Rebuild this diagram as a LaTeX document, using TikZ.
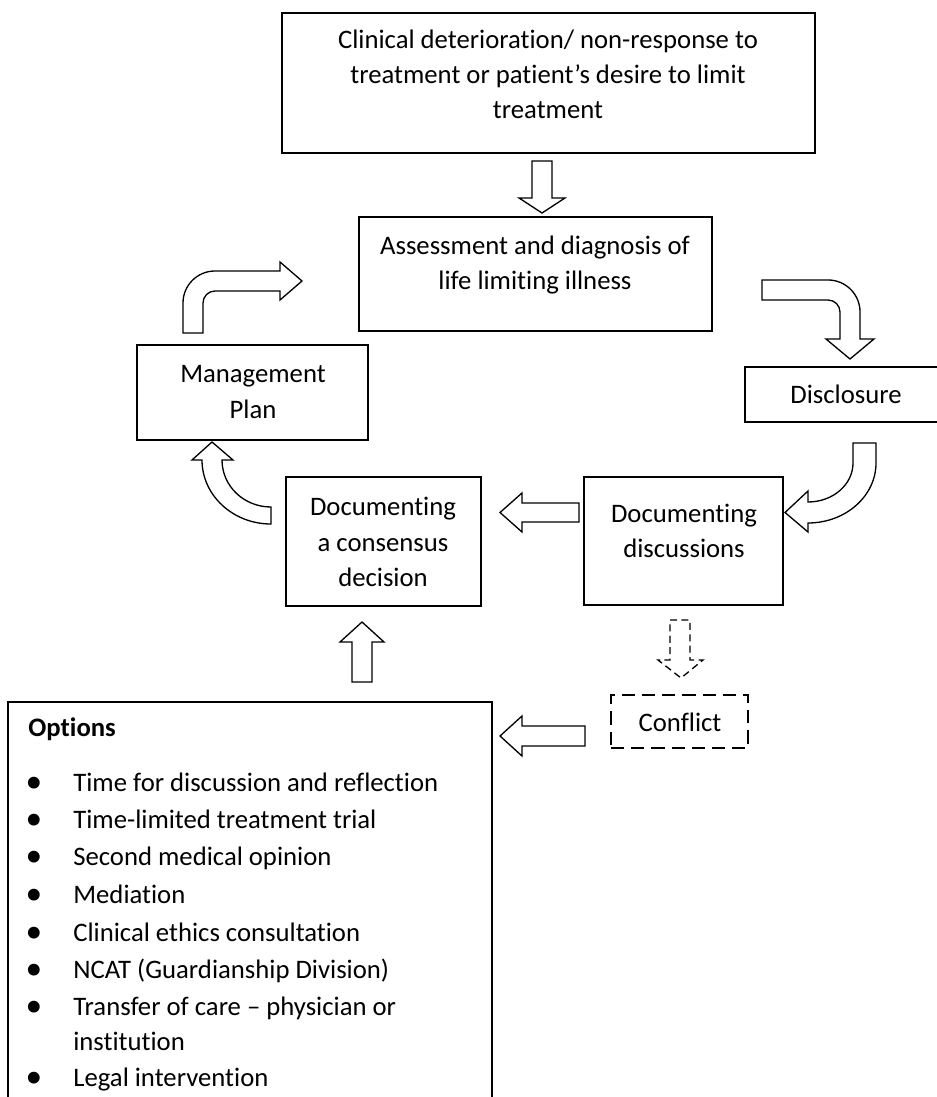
\documentclass[tikz,border=0pt]{standalone}
\usepackage{fontspec}
\setmainfont{Carlito}[Ligatures=NoCommon]
\usetikzlibrary{fit}
\begin{document}
\begin{tikzpicture}[x=0.02cm,y=-0.02cm,
    box/.style={draw,line width=1.3pt,rectangle,inner sep=0pt},
    txt/.style={align=center,inner sep=0pt,font=\fontsize{15.2}{20}\selectfont},
    blockarrow/.style={draw,line width=0.75pt,fill=white,line join=miter}]
\useasboundingbox (0,0) rectangle (936,1097);

% boxes
\node[box,fit={(282,13) (815,153)}] (top) {};
\node[box,fit={(359,217) (712,331)}] (assess) {};
\node[box,fit={(137,345) (368,440)}] (mgmt) {};
\node[box,fit={(745,367) (950,422)}] (discl) {};
\node[box,fit={(584,477) (783,605)}] (docdisc) {};
\node[box,fit={(286,477) (481,606)}] (consensus) {};
\node[box,dash pattern=on 7.5pt off 4pt,fit={(611,695) (748,748)}] (conflict) {};
\node[box,fit={(8,702) (492,1110)}] (options) {};

% texts
\node[txt] (topT) at (548,74) {Clinical deterioration/ non-response to\\treatment or patient’s desire to limit\\treatment};
\node[txt] (assessT) at (535,265) {Assessment and diagnosis of\\life limiting illness};
\node[txt] (mgmtT) at (253,392) {Management\\Plan};
\node[txt] (disclT) at (846,394) {Disclosure};
\node[txt] (docdiscT) at (684,531) {Documenting\\discussions};
\node[txt] (consensusT) at (383,542) {Documenting\\a consensus\\decision};
\node[txt] (conflictT) at (680,722) {Conflict};

\node[txt,anchor=base west,font=\fontsize{15.2}{20}\selectfont\bfseries] (optT) at (28,736) {Options};
\foreach \y/\t [count=\i] in {783/Time for discussion and reflection,820/Time-limited treatment trial,857/Second medical opinion,895/Mediation,933/Clinical ethics consultation,970/NCAT (Guardianship Division),1007/Transfer of care – physician or,1078/Legal intervention}
{
    \node[txt,anchor=base west] (opt\i) at (73,\y+8) {\t};
    \node[txt,anchor=base,font=\fontsize{19}{19}\selectfont] (bul\i) at (34,\y+9.5) {•};
}
\node[txt,anchor=base west] (opt7b) at (73,1050) {institution};

% straight block arrows
\draw[blockarrow] (532,161) -- (552,161) -- (552,198) -- (565,198) -- (542,213) -- (519,198) -- (532,198) -- cycle;
\draw[blockarrow] (579,503) -- (522,503) -- (522,493) -- (500,512.5) -- (522,532) -- (522,522) -- (579,522) -- cycle;
\draw[blockarrow] (352,682) -- (352,642) -- (340,642) -- (362,622) -- (384,642) -- (372,642) -- (372,682) -- cycle;
\draw[blockarrow] (585,726) -- (522,726) -- (522,716) -- (500,736) -- (522,756) -- (522,746) -- (585,746) -- cycle;
\draw[blockarrow,dash pattern=on 4pt off 2.5pt] (670,620) -- (690,620) -- (690,660) -- (703,660) -- (681,678) -- (658,660) -- (670,660) -- cycle;

% bent block arrows
\draw[blockarrow] (183,333) -- (183,303) .. controls (183,285.3) and (197.3,271) .. (215,271) -- (280,271) -- (280,262) -- (302,281) -- (280,300) -- (280,291) -- (215,291) .. controls (208.4,291) and (203,296.4) .. (203,303) -- (203,333) -- cycle;
\draw[blockarrow] (762,280) -- (828,280) .. controls (845.7,280) and (860,294.3) .. (860,312) -- (860,339) -- (874,339) -- (850,359) -- (826,339) -- (840,339) -- (840,312) .. controls (840,305.4) and (834.6,300) .. (828,300) -- (762,300) -- cycle;
\draw[blockarrow] (853,443) -- (876,443) -- (876,463) .. controls (876,496) and (845.6,523) .. (808,523) -- (808,532) -- (785,512.5) -- (808,491) -- (808,502) .. controls (832.9,502) and (853,484.5) .. (853,463) -- cycle;
\draw[blockarrow] (271,507) -- (271,524) .. controls (232.9,524) and (202,495.3) .. (202,460) -- (192,460) -- (212,442) -- (233,460) -- (222,460) .. controls (222,486) and (243.9,507) .. (271,507) -- cycle;
\end{tikzpicture}
\end{document}
